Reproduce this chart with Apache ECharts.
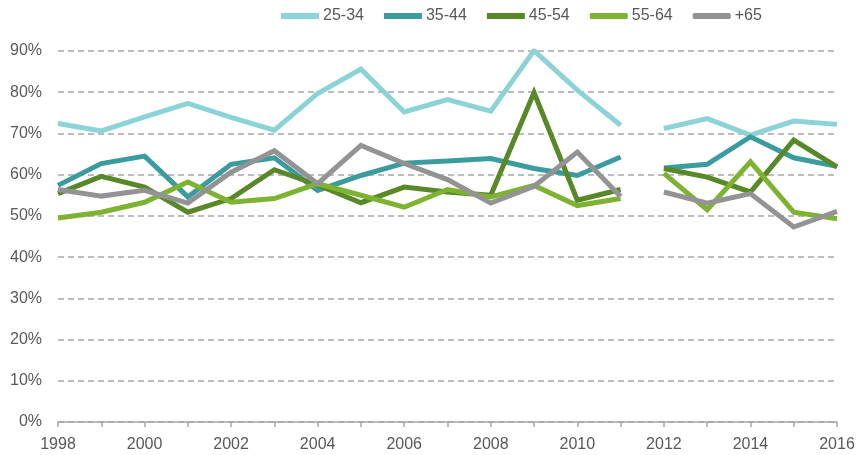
<!DOCTYPE html>
<html>
<head>
<meta charset="utf-8">
<script src="https://cdn.jsdelivr.net/npm/echarts@6/dist/echarts.min.js"></script>
<style>
  html, body { margin: 0; padding: 0; background: #fff; }
  #chart { width: 863px; height: 455px; }
</style>
</head>
<body>
<div id="chart"></div>
<script>
// Survey years (the series break between 2011 and 2012)
const years = [1998, 1999, 2000, 2001, 2002, 2003, 2004, 2005, 2006, 2007,
  2008, 2009, 2010, 2011, 2012, 2013, 2014, 2015, 2016];
const breakAfter = 2011;

const age25to34 = [72.4, 70.6, 74.0, 77.3, 73.9, 70.8, 79.7, 85.6, 75.2, 78.2,
  75.4, 90.1, 80.5, 72.0, 71.2, 73.6, 69.6, 73.0, 72.2];
const age35to44 = [57.4, 62.7, 64.5, 54.6, 62.5, 64.1, 56.2, 59.8, 62.8, 63.3,
  63.9, 61.5, 59.8, 64.3, 61.6, 62.5, 69.2, 64.1, 62.0];
const age45to54 = [55.4, 59.6, 57.0, 50.9, 54.2, 61.2, 57.5, 53.2, 57.0, 55.8,
  55.0, 79.9, 53.8, 56.4, 61.5, 59.4, 55.8, 68.4, 61.9];
const age55to64 = [49.5, 50.9, 53.3, 58.2, 53.3, 54.2, 57.8, 55.0, 52.1, 56.4,
  54.6, 57.4, 52.5, 54.2, 60.3, 51.5, 63.1, 50.9, 49.3];
const age65plus = [56.4, 54.8, 56.2, 53.1, 60.6, 65.8, 57.8, 67.1, 62.7, 58.8,
  53.1, 57.2, 65.5, 54.7, 55.8, 53.1, 55.4, 47.3, 51.1];

const seriesNames = ['25-34', '35-44', '45-54', '55-64', '+65'];
const seriesValues = [age25to34, age35to44, age45to54, age55to64, age65plus];
const colors = ['#8bd3d6', '#3a9c9e', '#588828', '#7db330', '#939396'];

const textColor = '#595959';
const axisColor = '#a6a6a6';
const font = 'Liberation Sans, Arial, sans-serif';

// pair years with values, leaving an empty point so the line breaks
const toPoints = (values) => {
  const pts = [];
  years.forEach((y, i) => {
    pts.push([y, values[i]]);
    if (y === breakAfter) pts.push([y + 0.5, '-']);
  });
  return pts;
};

const chart = echarts.init(document.getElementById('chart'));

const option = {
  animation: false,
  textStyle: { fontFamily: font },
  legend: {
    left: 276,
    top: 3,
    itemWidth: 38,
    itemHeight: 6,
    itemGap: 20,
    textStyle: { color: textColor, fontSize: 16, fontFamily: font, padding: [0, 0, 0, -1] },
    data: seriesNames.map((name, i) => ({
      name,
      icon: i >= 3 ? 'roundRect' : 'rect',
      itemStyle: { color: colors[i] },
    })),
  },
  grid: {
    left: 58,
    right: 26,
    top: 51,
    bottom: 33,
  },
  xAxis: {
    type: 'value',
    min: 1998,
    max: 2016,
    interval: 1,
    axisLine: { show: true, lineStyle: { color: axisColor, width: 1.5 } },
    axisTick: { show: true, length: 5, lineStyle: { color: axisColor, width: 1.5 } },
    axisLabel: {
      color: textColor,
      fontSize: 16,
      margin: 15,
      fontFamily: font,
      showMinLabel: true,
      showMaxLabel: true,
      formatter: (v) => (v % 2 === 0 ? String(v) : ''),
    },
    splitLine: { show: false },
  },
  yAxis: {
    type: 'value',
    min: 0,
    max: 90,
    interval: 10,
    axisLine: { show: false },
    axisTick: { show: false },
    axisLabel: {
      color: textColor,
      fontSize: 16,
      margin: 16,
      fontFamily: font,
      formatter: '{value}%',
    },
    splitLine: {
      show: true,
      lineStyle: { color: axisColor, type: [6, 4], width: 1.5 },
    },
  },
  series: seriesNames.map((name, i) => ({
    name,
    type: 'line',
    data: toPoints(seriesValues[i]),
    connectNulls: false,
    showSymbol: false,
    symbol: 'none',
    lineStyle: { color: colors[i], width: 5, cap: 'butt', join: 'miter' },
    itemStyle: { color: colors[i] },
    silent: true,
  })),
};

chart.setOption(option);
</script>
</body>
</html>
